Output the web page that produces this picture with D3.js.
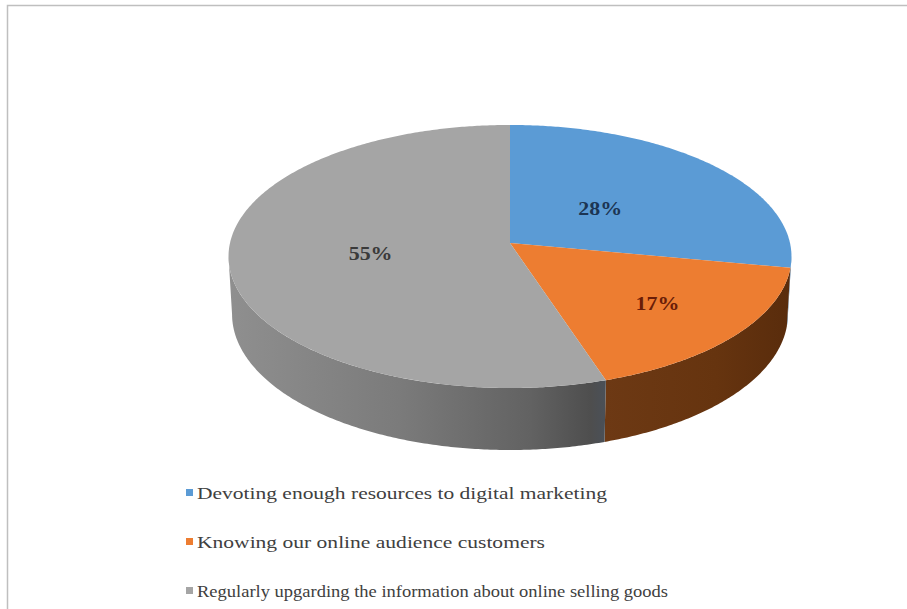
<!DOCTYPE html>
<html>
<head>
<meta charset="utf-8">
<script src="https://cdn.jsdelivr.net/npm/d3@7"></script>
<style>
  html, body { margin: 0; padding: 0; background: #ffffff; }
  svg { display: block; }
</style>
</head>
<body>
<svg id="chart" width="907" height="609"></svg>
<script>
// ---- data ----
const categories = [
  "Devoting enough resources to digital marketing",
  "Knowing our online audience customers",
  "Regularly upgarding the information about online selling goods"
];
const shares = [28, 17, 55];
const valueLabels = ["28%", "17%", "55%"];

// ---- styling ----
const topColors = ["#5b9bd5", "#ed7d31", "#a5a5a5"];
const wallStops = [
  [["0%", "#2f5f8e"], ["100%", "#2a5580"]],
  [["0%", "#6d3914"], ["60%", "#66340f"], ["100%", "#592c0c"]],
  [["0%", "#8f8f8f"], ["45%", "#7b7b7b"], ["80%", "#626262"], ["96%", "#4e4e4e"], ["100%", "#4a5058"]]
];
const labelColors = ["#1c3553", "#6a1d08", "#3a3a3a"];
const labelRadius = [0.43, 0.67, 0.5];
const labelStretch = 1.22;              // value labels are set slightly wide
const legendWidths = [410, 348, 471];   // set widths of the legend lines

// ---- 3D projection of the pie disc (radius 1, thickness H) ----
const cx = 510, cy = 243;          // projected centre of the top face
const scale = 280;                  // screen half-width of the disc
const tilt = 27.7 * Math.PI / 180;  // viewing elevation
const dist = 8.64;                  // camera distance in radii
const H = 0.235;                    // disc thickness in radii
const F = scale * dist;

function project(theta, level, rho = 1) {
  const x3 = rho * Math.sin(theta);
  const z3 = -rho * Math.cos(theta);
  const y3 = level;
  const depth = dist - y3 * Math.sin(tilt) - z3 * Math.cos(tilt);
  const X = x3 * F / depth;
  const Yup = (y3 * Math.cos(tilt) - z3 * Math.sin(tilt)) * F / depth;
  return [cx + X, cy - Yup];
}

function arcPoints(a0, a1, level) {
  const n = Math.max(2, Math.ceil(Math.abs(a1 - a0) / 0.01));
  return d3.range(n + 1).map(i => project(a0 + (a1 - a0) * i / n, level));
}

const svg = d3.select("#chart");
const defs = svg.append("defs");
const line = d3.line();

// outer frame
svg.append("path")
  .attr("d", "M7.5,609 L7.5,5.5 L907,5.5")
  .attr("fill", "none")
  .attr("stroke", "#bfbfbf")
  .attr("stroke-width", 1.5);

const slices = d3.pie().sort(null).value(d => d)(shares);

// range of angles where the outer wall faces the viewer
const k = Math.cos(tilt) / dist;
const wallStart = Math.acos(-k);
const wallEnd = 2 * Math.PI - wallStart;

// gradients for the walls
slices.forEach((s, i) => {
  const g = defs.append("linearGradient")
    .attr("id", "wall" + i)
    .attr("x1", "0").attr("y1", "0").attr("x2", "1").attr("y2", "0");
  wallStops[i].forEach(([o, c]) => g.append("stop").attr("offset", o).attr("stop-color", c));
});

// outer walls
const walls = svg.append("g");
slices.forEach((s, i) => {
  const a0 = Math.max(s.startAngle, wallStart);
  const a1 = Math.min(s.endAngle, wallEnd);
  if (a1 <= a0) return;
  const pts = arcPoints(a0, a1, 0).concat(arcPoints(a1, a0, -H));
  walls.append("path")
    .attr("d", line(pts) + "Z")
    .attr("fill", `url(#wall${i})`);
});

// top faces
const tops = svg.append("g");
slices.forEach((s, i) => {
  const pts = [project(0, 0, 0)].concat(arcPoints(s.startAngle, s.endAngle, 0));
  tops.append("path")
    .attr("d", line(pts) + "Z")
    .attr("fill", topColors[i]);
});

// value labels
slices.forEach((s, i) => {
  const mid = (s.startAngle + s.endAngle) / 2;
  const [lx, ly] = project(mid, 0, labelRadius[i]);
  svg.append("text")
    .attr("transform", `translate(${lx},${ly}) scale(${labelStretch},1)`)
    .attr("dy", "0.35em")
    .attr("text-anchor", "middle")
    .attr("font-family", "'Liberation Serif', 'Times New Roman', serif")
    .attr("font-weight", "bold")
    .attr("font-size", 18)
    .attr("fill", labelColors[i])
    .text(valueLabels[i]);
});

// legend
const legend = svg.append("g");
categories.forEach((c, i) => {
  const y = 493 + i * 49;
  legend.append("rect")
    .attr("x", 186).attr("y", y - 4)
    .attr("width", 7).attr("height", 7)
    .attr("fill", topColors[i]);
  legend.append("text")
    .attr("x", 197).attr("y", y)
    .attr("dy", "0.35em")
    .attr("font-family", "'Liberation Serif', 'Times New Roman', serif")
    .attr("font-size", 17.5)
    .attr("fill", "#404040")
    .attr("textLength", legendWidths[i])
    .attr("lengthAdjust", "spacingAndGlyphs")
    .text(c);
});
</script>
</body>
</html>
